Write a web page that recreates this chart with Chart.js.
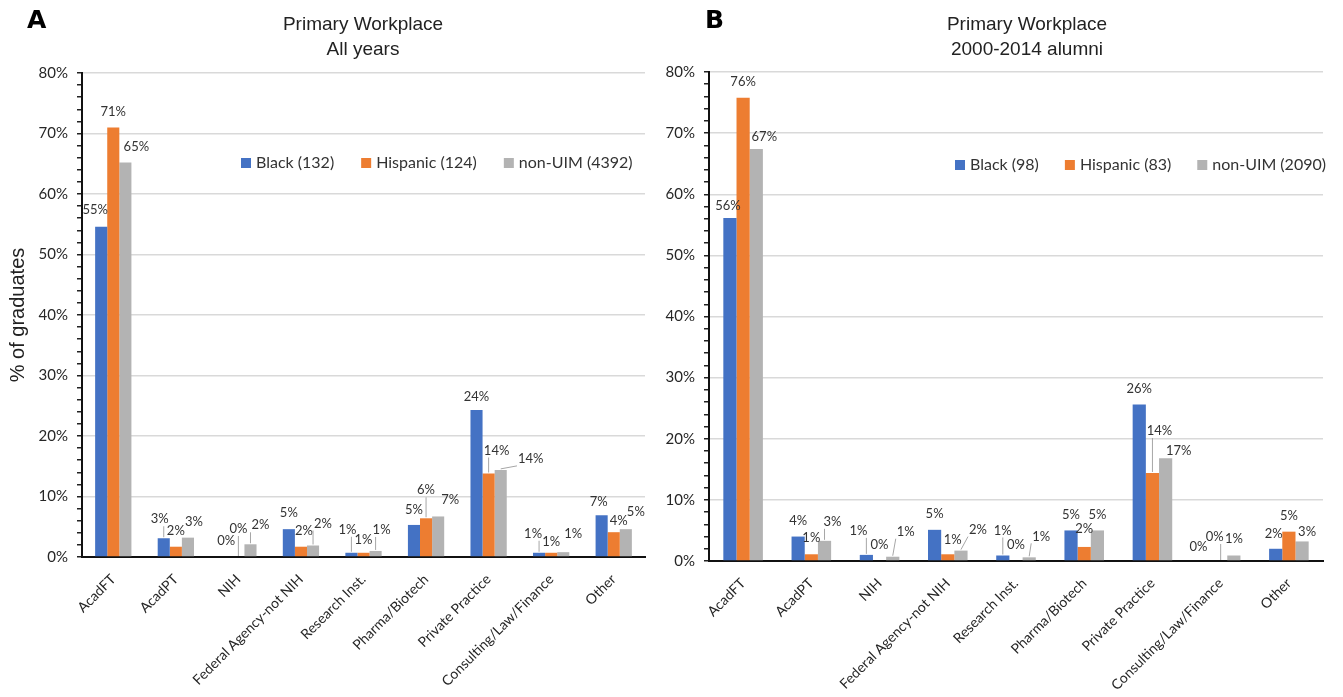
<!DOCTYPE html>
<html>
<head>
<meta charset="utf-8">
<title>Primary Workplace</title>
<script src="https://cdn.jsdelivr.net/npm/chart.js@4/dist/chart.umd.min.js"></script>
<style>
  html, body { margin: 0; padding: 0; background: #fff; }
  #wrap { position: relative; width: 1343px; height: 697px; overflow: hidden; }
  canvas { position: absolute; top: 0; }
  #panelA { left: 0; }
  #panelB { left: 650px; }
</style>
</head>
<body>
<div id="wrap">
  <canvas id="panelA" width="650" height="697" style="width:650px;height:697px"></canvas>
  <canvas id="panelB" width="693" height="697" style="width:693px;height:697px"></canvas>
</div>
<script>
// Workplace categories shared by both panels
const categories = ['AcadFT', 'AcadPT', 'NIH', 'Federal Agency-not NIH', 'Research Inst.',
  'Pharma/Biotech', 'Private Practice', 'Consulting/Law/Finance', 'Other'];

// Y-axis labels for each 10% step
const percentTicks = ['0%', '10%', '20%', '30%', '40%', '50%', '60%', '70%', '80%'];

// Panel A: all years (% of graduates)
const allYearsBlack    = [54.6, 3.1, 0.0, 4.6, 0.7, 5.3, 24.3, 0.7, 6.9];
const allYearsHispanic = [71.0, 1.7, 0.0, 1.7, 0.7, 6.4, 13.8, 0.7, 4.1];
const allYearsNonUIM   = [65.2, 3.2, 2.1, 1.9, 1.0, 6.7, 14.4, 0.8, 4.6];
const allYearsSeries   = ['Black (132)', 'Hispanic (124)', 'non-UIM (4392)'];

// Panel B: 2000-2014 alumni (% of graduates)
const alumniBlack    = [56.1, 4.0, 1.0, 5.1, 0.9, 5.0, 25.6, 0.0, 2.0];
const alumniHispanic = [75.8, 1.1, 0.0, 1.1, 0.0, 2.3, 14.4, 0.0, 4.8];
const alumniNonUIM   = [67.4, 3.3, 0.7, 1.7, 0.6, 5.0, 16.8, 0.9, 3.2];
const alumniSeries   = ['Black (98)', 'Hispanic (83)', 'non-UIM (2090)'];

const seriesColors = ['#4472C4', '#ED7D31', '#B3B3B3'];

// Value-label placement: [dx, dy, leader line] relative to each bar's top centre
const allYearsLabelPlacement = [
  [[-6,-17,0],[-4,-19,1],[0,-16,0],[0,-16,0],[-4,-23,1],[0,-15,0],[0,-13,0],[-6,-19,1],[-3,-13,0]],
  [[0,-16,0],[0,-16,0],[0,-28,1],[3,-16,0],[0,-13,0],[0,-28,1],[8,-23,1],[0,-11,0],[5,-11,0]],
  [[11,-16,0],[6,-16,0],[10,-19,1],[10,-22,1],[6,-21,1],[12,-17,0],[30,-11,1],[10,-18,0],[10,-17,0]]
];
const alumniLabelPlacement = [
  [[-2,-12,0],[0,-16,0],[-8,-24,1],[0,-16,0],[0,-25,1],[0,-16,0],[0,-16,0],[-9,-14,0],[-2,-15,0]],
  [[0,-16,0],[0,-16,0],[0,-16,0],[5,-14,0],[0,-16,0],[0,-18,0],[7,-42,1],[-6,-24,1],[0,-16,0]],
  [[8,-12,0],[8,-19,1],[13,-25,1],[17,-21,1],[12,-21,1],[0,-16,0],[13,-7,0],[0,-17,0],[5,-10,0]]
];

const labelFont = '"Lato", "Open Sans", sans-serif';
const titleFont = '"Liberation Sans", Arial, sans-serif';
const letterFont = '"DejaVu Sans", "Liberation Sans", sans-serif';

// Draws panel letter, two-line heading, inline legend and value labels
const decorPlugin = {
  id: 'decor',
  afterDatasetsDraw(chart, args, opts) {
    const ctx = chart.ctx;
    ctx.save();
    ctx.font = '13px ' + labelFont;
    ctx.textAlign = 'center';
    ctx.textBaseline = 'middle';
    chart.data.datasets.forEach((ds, i) => {
      const meta = chart.getDatasetMeta(i);
      meta.data.forEach((bar, j) => {
        const place = opts.placement[i][j];
        const text = Math.round(ds.data[j]) + '%';
        const lx = bar.x + place[0];
        const ly = bar.y + place[1];
        if (place[2]) {
          const hw = ctx.measureText(text).width / 2 + 1;
          const hh = 7;
          const px = Math.min(Math.max(bar.x, lx - hw), lx + hw);
          const py = Math.min(Math.max(bar.y, ly - hh), ly + hh);
          ctx.strokeStyle = '#a6a6a6';
          ctx.lineWidth = 1;
          ctx.beginPath();
          ctx.moveTo(px, py);
          ctx.lineTo(bar.x, bar.y - 1);
          ctx.stroke();
        }
        ctx.fillStyle = '#333333';
        ctx.fillText(text, lx, ly);
      });
    });
    ctx.restore();
  },
  afterDraw(chart, args, opts) {
    const ctx = chart.ctx;
    const area = chart.chartArea;
    ctx.save();
    // panel letter
    ctx.fillStyle = '#000';
    ctx.font = 'bold 25px ' + letterFont;
    ctx.textAlign = 'left';
    ctx.textBaseline = 'alphabetic';
    ctx.fillText(opts.letter, opts.letterX, 28);
    // heading
    ctx.fillStyle = '#222';
    ctx.font = '19px ' + titleFont;
    ctx.textAlign = 'center';
    opts.heading.forEach((line, k) => ctx.fillText(line, opts.headingX, 30 + k * 25));
    // legend
    ctx.font = '16px ' + labelFont;
    ctx.textAlign = 'left';
    ctx.textBaseline = 'middle';
    let x = area.left + opts.legendX;
    const y = area.top + opts.legendY;
    chart.data.datasets.forEach(ds => {
      ctx.fillStyle = ds.backgroundColor;
      ctx.fillRect(x, y - 5, 10, 10);
      x += 15;
      ctx.fillStyle = '#333333';
      ctx.fillText(ds.label, x, y);
      x += ctx.measureText(ds.label).width + opts.legendGap;
    });
    ctx.restore();
  }
};

function buildPanel(canvasId, names, values, cfg) {
  return new Chart(document.getElementById(canvasId), {
    type: 'bar',
    data: {
      labels: categories,
      datasets: names.map((name, i) => ({
        label: name,
        data: values[i],
        backgroundColor: seriesColors[i],
        borderWidth: 0,
        categoryPercentage: 0.58,
        barPercentage: 1.0
      }))
    },
    options: {
      responsive: false,
      animation: false,
      devicePixelRatio: 1,
      layout: { padding: { left: 0, right: cfg.padRight, top: cfg.top, bottom: 0 } },
      plugins: {
        legend: { display: false },
        tooltip: { enabled: false },
        title: { display: false },
        decor: cfg.decor
      },
      scales: {
        x: {
          afterFit: s => { s.height = cfg.xAxisHeight; },
          grid: { display: false, drawTicks: false },
          border: { color: '#111', width: 2 },
          ticks: {
            minRotation: 45, maxRotation: 45, autoSkip: false, padding: 14,
            color: '#262626', font: { family: labelFont, size: 14 }
          }
        },
        y: {
          min: 0, max: 80,
          afterFit: s => { s.width = cfg.yAxisWidth; },
          ticks: {
            stepSize: 2, autoSkip: false, padding: 9,
            color: '#262626', font: { family: labelFont, size: 15 },
            callback: v => (v % 10 === 0 ? percentTicks[v / 10] : '')
          },
          grid: {
            color: c => (c.tick && c.tick.value % 10 === 0 && c.tick.value > 0) ? '#d9d9d9' : 'rgba(0,0,0,0)',
            tickColor: '#222',
            tickLength: 5,
            lineWidth: 1.5
          },
          border: { color: '#111', width: 2 },
          title: {
            display: !!cfg.yTitle,
            text: cfg.yTitle || '',
            color: '#222',
            font: { family: titleFont, size: 20 },
            padding: { top: 6, bottom: 0 }
          }
        }
      }
    },
    plugins: [decorPlugin]
  });
}

buildPanel('panelA', allYearsSeries, [allYearsBlack, allYearsHispanic, allYearsNonUIM], {
  padRight: 5, top: 73, xAxisHeight: 140, yAxisWidth: 82, yTitle: '% of graduates',
  decor: {
    letter: 'A', letterX: 27, heading: ['Primary Workplace', 'All years'], headingX: 363,
    legendX: 159, legendY: 90, legendGap: 27, placement: allYearsLabelPlacement
  }
});

buildPanel('panelB', alumniSeries, [alumniBlack, alumniHispanic, alumniNonUIM], {
  padRight: 20, top: 72, xAxisHeight: 136, yAxisWidth: 59, yTitle: '',
  decor: {
    letter: 'B', letterX: 55, heading: ['Primary Workplace', '2000-2014 alumni'], headingX: 377,
    legendX: 246, legendY: 93, legendGap: 26, placement: alumniLabelPlacement
  }
});
</script>
</body>
</html>
